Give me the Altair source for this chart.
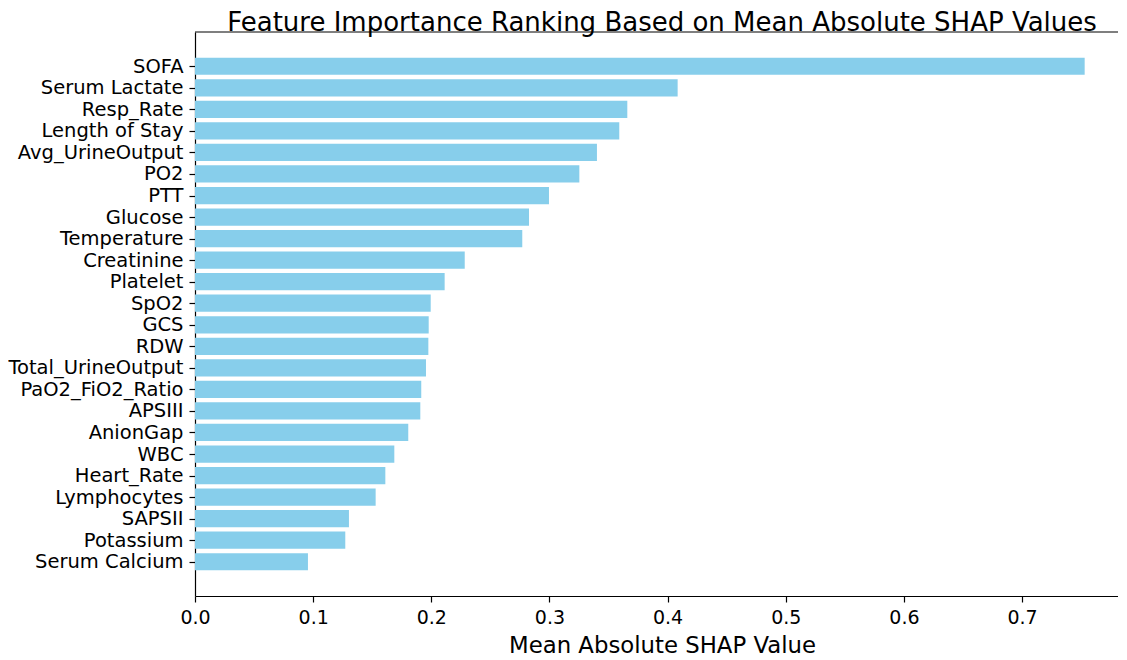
import altair as alt
import pandas as pd

features = ["SOFA", "Serum Lactate", "Resp_Rate", "Length of Stay", "Avg_UrineOutput",
            "PO2", "PTT", "Glucose", "Temperature", "Creatinine", "Platelet", "SpO2",
            "GCS", "RDW", "Total_UrineOutput", "PaO2_FiO2_Ratio", "APSIII", "AnionGap",
            "WBC", "Heart_Rate", "Lymphocytes", "SAPSII", "Potassium", "Serum Calcium"]
values = [0.753, 0.4085, 0.3659, 0.3591, 0.3402, 0.3253, 0.2996, 0.2827, 0.2770,
          0.2283, 0.2113, 0.1995, 0.1978, 0.1975, 0.1955, 0.1915, 0.1907, 0.1805,
          0.1687, 0.1611, 0.1529, 0.1303, 0.1272, 0.0956]
x_ticks = [0.0, 0.1, 0.2, 0.3, 0.4, 0.5, 0.6, 0.7]

df = pd.DataFrame({"feature": features, "value": values, "idx": list(range(len(features)))})

FONT = "DejaVu Sans"
PX_PER_UNIT = 1181.5
W, H = 923, 564
x_max = W / PX_PER_UNIT
y_dom = [-1.59, 24.59]

label_expr = "[" + ",".join('"%s"' % f for f in features) + "][datum.value]"

xscale = alt.Scale(domain=[0, x_max], nice=False, zero=False)
yscale = alt.Scale(domain=y_dom, reverse=True, nice=False, zero=False)

bars = alt.Chart(df).transform_calculate(
    y0="datum.idx - 0.4", y1="datum.idx + 0.4", zero="0"
).mark_rect(color="#87CEEB").encode(
    x=alt.X("zero:Q", scale=xscale,
            axis=alt.Axis(values=x_ticks, format=".1f", title="Mean Absolute SHAP Value",
                          titleFontSize=22.8, titleFontWeight="normal", titleColor="#000",
                          titleBaseline="alphabetic", titleY=56, titleX=(934 / 2),
                          labelFontSize=19, labelColor="#000", labelPadding=6,
                          labelFlush=False,
                          tickSize=6, tickColor="#000", tickWidth=1.2,
                          domainColor="#000", domainWidth=1.2, grid=False)),
    x2="value:Q",
    y=alt.Y("y0:Q", scale=yscale,
            axis=alt.Axis(values=list(range(len(features))), labelExpr=label_expr, title=None,
                          labelFontSize=19.5, labelColor="#000", labelPadding=6,
                          labelFlush=False, labelOverlap=False,
                          tickSize=6, tickColor="#000", tickWidth=1.2,
                          domainColor="#000", domainWidth=1.2, grid=False)),
    y2="y1:Q",
)

top_spine = alt.Chart(pd.DataFrame({"s": [0]})).mark_rule(color="#000", strokeWidth=1.2).encode(
    x=alt.value(0), x2=alt.value(W), y=alt.value(0)
)

chart = alt.layer(bars, top_spine).properties(
    width=W, height=H,
    title=alt.TitleParams("Feature Importance Ranking Based on Mean Absolute SHAP Values",
                          fontSize=26, fontWeight="normal", color="#000", anchor="middle",
                          frame="group", dx=(934 - W) / 2, dy=5, offset=0, font=FONT),
    autosize=alt.AutoSizeParams(type="none"),
    padding={"left": 187, "top": 24, "right": 0, "bottom": 60},
).configure(font=FONT).configure_view(stroke=None)

chart.save("out.html", embed_options={"renderer": "svg", "actions": False})
